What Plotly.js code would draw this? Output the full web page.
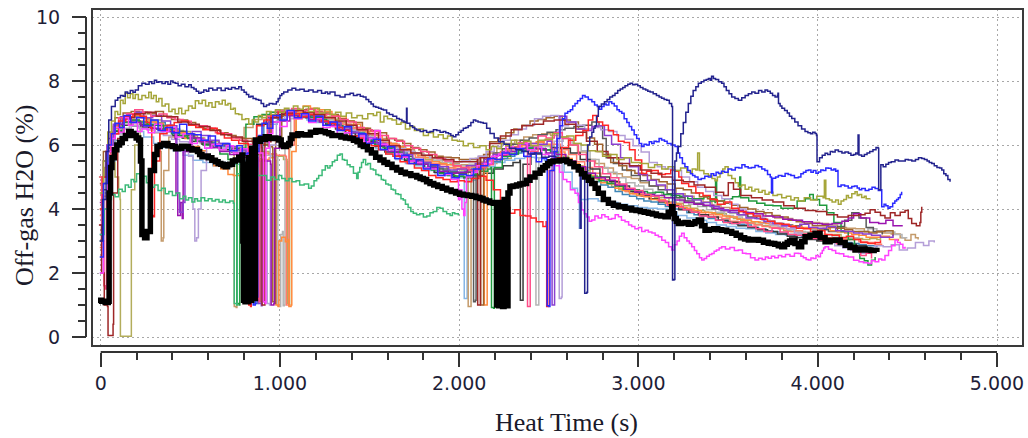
<!DOCTYPE html>
<html><head><meta charset="utf-8">
<script src="https://cdn.plot.ly/plotly-3.0.1.min.js"></script>
<style>html,body{margin:0;padding:0;background:#fff;}#chart{width:1028px;height:438px;}</style>
</head><body><div id="chart"></div>
<script>
// ---- tick labels / titles ----
const xTickVals = [0, 1000, 2000, 3000, 4000, 5000];
const xTickText = ["0", "1.000", "2.000", "3.000", "4.000", "5.000"];
const yTickVals = [0, 2, 4, 6, 8, 10];
const yTickText = ["0", "2", "4", "6", "8", "10"];
const xTitle = "Heat Time (s)";
const yTitle = "Off-gas H2O (%)";

// ---- series: [heat time (s), off-gas H2O (%)] ----
const pinkPts = [[-8,5.0],[5,3.0],[18,1.6],[25,1.5],[32,4.5],[55,6.35],[100,6.85],[145,6.98],[190,7.1],[235,7.02],[280,6.9],[325,6.97],[370,6.85],[415,6.8],[460,6.74],[505,6.62],[550,6.6],[595,6.52],[640,6.38],[685,6.35],[730,6.22],[775,6.15],[820,6.02],[868,5.98],[871,1.2],[884,1.1],[888,6.2],[930,6.9],[975,7.06],[1020,7.0],[1065,7.14],[1110,7.08],[1155,7.12],[1200,7.02],[1245,6.95],[1290,6.9],[1335,6.8],[1380,6.72],[1425,6.55],[1470,6.48],[1515,6.42],[1560,6.3],[1605,6.2],[1650,6.12],[1695,5.98],[1740,5.9],[1785,5.8],[1830,5.7],[1875,5.58],[1920,5.5],[1965,5.35],[2010,5.3],[2055,5.2],[2100,5.3],[2145,5.38],[2190,5.55],[2235,5.7],[2280,5.9],[2330,6.08],[2378,6.0],[2381,0.95],[2392,0.95],[2396,5.8],[2440,6.28],[2485,6.22],[2530,6.38],[2575,6.2],[2620,6.0],[2665,5.7],[2710,5.5],[2755,5.32],[2800,5.1],[2845,4.98],[2890,4.78],[2935,4.65],[2980,4.58],[3025,4.45],[3070,4.4],[3115,4.25],[3160,4.12],[3205,4.08],[3250,3.98],[3295,3.9],[3340,3.78],[3385,3.75],[3430,3.65],[3475,3.58],[3520,3.55],[3565,3.58],[3610,3.45],[3655,3.38],[3700,3.3],[3745,3.4],[3790,3.28],[3835,3.2],[3880,3.18],[3925,3.22],[3970,3.08],[4015,3.02],[4060,2.98],[4105,2.92],[4150,2.82],[4195,2.7],[4240,2.55],[4270,2.62],[4300,2.45]];
const redPts = [[-5,4.0],[10,5.0],[30,5.8],[60,6.35],[100,6.75],[140,6.88],[180,6.95],[220,6.9],[255,6.7],[275,6.55],[285,3.8],[296,3.76],[300,5.5],[330,6.35],[370,6.62],[410,6.7],[450,6.75],[490,6.62],[530,6.55],[570,6.48],[610,6.52],[650,6.35],[690,6.22],[730,6.15],[770,6.05],[823,5.88],[826,1.0],[836,0.95],[840,5.9],[870,6.6],[910,6.78],[950,6.92],[990,7.02],[1030,6.95],[1070,6.98],[1110,6.88],[1150,6.95],[1190,6.82],[1230,6.75],[1270,6.68],[1310,6.55],[1350,6.45],[1390,6.28],[1430,6.22],[1470,6.05],[1510,5.98],[1550,5.85],[1590,5.72],[1630,5.65],[1670,5.48],[1710,5.42],[1750,5.28],[1790,5.2],[1830,5.05],[1870,4.98],[1910,4.92],[1950,4.85],[1990,4.88],[2030,4.85],[2070,4.95],[2110,5.02],[2150,4.9],[2190,4.6],[2230,4.25],[2260,4.05],[2283,3.87],[2310,3.98],[2340,3.8],[2370,3.78],[2400,3.72],[2430,3.6],[2467,3.45],[2485,3.6],[2488,0.95],[2498,0.98],[2502,5.2],[2530,5.6],[2570,5.92],[2610,6.15],[2650,6.3],[2690,6.45],[2720,6.78],[2745,6.92],[2770,6.72],[2800,6.62],[2832,6.45],[2860,6.32],[2888,6.12],[2920,6.08],[2950,5.85],[2981,5.53],[3018,5.11],[3045,5.18],[3074,5.2],[3110,5.08],[3150,5.1],[3180,5.22],[3204,5.18],[3225,5.0],[3241,4.8],[3280,4.7],[3320,4.5],[3360,4.42],[3400,4.3],[3440,4.15],[3483,4.22],[3520,4.02],[3560,3.92],[3600,3.85],[3640,3.78],[3680,3.68],[3720,3.62],[3760,3.55],[3800,3.52],[3840,3.45],[3880,3.4],[3920,3.38],[3960,3.3],[4000,3.32],[4040,3.2],[4080,3.18],[4120,3.1],[4160,3.15],[4200,3.05],[4240,2.95],[4280,2.92],[4320,2.95],[4350,3.02]];
const purplePts = [[-5,3.5],[12,4.8],[35,6.0],[70,6.65],[110,6.88],[150,6.95],[190,7.02],[240,6.85],[290,6.92],[340,6.75],[390,6.6],[425,5.9],[430,4.5],[440,3.9],[460,4.2],[470,6.0],[510,6.42],[560,6.3],[610,6.15],[660,6.05],[710,5.95],[760,5.85],[810,5.75],[850,5.62],[877,5.62],[880,1.05],[896,0.98],[900,6.1],[940,6.85],[990,7.05],[1040,7.0],[1090,7.08],[1140,6.95],[1190,6.9],[1240,6.72],[1290,6.7],[1340,6.55],[1390,6.4],[1440,6.32],[1490,6.22],[1540,6.05],[1590,5.95],[1640,5.85],[1690,5.7],[1740,5.55],[1790,5.45],[1840,5.38],[1890,5.32],[1940,5.22],[1990,5.25],[2040,5.35],[2090,5.42],[2140,5.55],[2190,5.7],[2240,5.8],[2290,5.92],[2340,6.02],[2390,6.05],[2440,6.02],[2490,6.12],[2515,5.9],[2518,1.0],[2528,1.0],[2532,5.9],[2545,6.4],[2562,6.9],[2600,6.72],[2650,6.5],[2700,6.45],[2740,6.58],[2775,6.6],[2810,6.3],[2850,6.02],[2900,5.6],[2950,5.32],[3000,5.08],[3050,4.9],[3100,4.75],[3150,4.6],[3200,4.48],[3250,4.4],[3300,4.28],[3350,4.2],[3400,4.08],[3450,3.98],[3500,3.9],[3550,3.82],[3600,3.72],[3650,3.7],[3700,3.6],[3750,3.55],[3800,3.48],[3850,3.44],[3900,3.52],[3950,3.42],[4000,3.4],[4050,3.45],[4100,3.32],[4150,3.3],[4200,3.25],[4250,3.22],[4300,3.18],[4350,3.12],[4420,3.2]];
const violetPts = [[-5,4.2],[15,5.5],[40,6.2],[80,6.65],[125,6.82],[170,6.7],[225,6.6],[280,6.52],[335,6.45],[380,6.42],[415,6.2],[420,4.5],[430,3.8],[445,4.2],[455,3.7],[460,5.8],[500,6.22],[555,6.1],[610,5.92],[665,5.8],[720,5.7],[775,5.62],[830,5.55],[885,5.5],[948,5.4],[951,1.0],[966,1.05],[970,5.9],[1000,6.75],[1055,6.92],[1110,6.88],[1165,6.8],[1220,6.72],[1275,6.62],[1330,6.48],[1385,6.38],[1440,6.2],[1495,6.08],[1550,5.98],[1605,5.8],[1660,5.65],[1715,5.5],[1770,5.4],[1825,5.3],[1880,5.18],[1935,5.12],[1990,5.15],[2045,5.22],[2100,5.42],[2155,5.55],[2210,5.68],[2265,5.8],[2320,5.9],[2375,5.98],[2430,5.88],[2485,5.75],[2540,5.7],[2595,5.5],[2650,5.32],[2705,5.12],[2760,4.98],[2815,4.9],[2870,4.75],[2925,4.62],[2980,4.52],[3035,4.45],[3090,4.42],[3145,4.35],[3200,4.28],[3255,4.2],[3310,4.15],[3365,4.12],[3420,4.02],[3475,3.95],[3530,3.95],[3585,3.88],[3640,3.85],[3695,3.78],[3750,3.75],[3805,3.68],[3860,3.65],[3915,3.6],[3970,3.55],[4025,3.52],[4080,3.55],[4135,3.62],[4170,3.72],[4200,3.85],[4240,3.72],[4290,3.58],[4340,3.55],[4380,3.65],[4420,3.48],[4470,3.5]];
const lavenderPts = [[-5,3.0],[15,4.5],[40,5.8],[80,6.35],[125,6.5],[170,6.6],[215,6.52],[260,6.48],[305,6.4],[350,6.3],[395,6.18],[440,6.1],[490,5.65],[515,4.0],[525,3.0],[535,3.1],[545,4.0],[560,5.2],[590,5.92],[635,6.02],[680,5.9],[725,5.8],[770,5.78],[815,5.7],[860,5.62],[905,5.52],[926,5.5],[929,1.05],[942,1.0],[946,6.0],[980,6.75],[1025,6.88],[1070,6.92],[1115,6.95],[1160,6.82],[1205,6.75],[1250,6.72],[1295,6.58],[1340,6.5],[1385,6.45],[1430,6.32],[1475,6.25],[1520,6.2],[1565,6.0],[1610,5.98],[1655,5.88],[1700,5.8],[1745,5.75],[1790,5.68],[1835,5.6],[1880,5.58],[1925,5.5],[1970,5.48],[2015,5.5],[2060,5.58],[2105,5.65],[2150,5.8],[2195,5.95],[2240,6.15],[2285,6.32],[2330,6.5],[2375,6.62],[2420,6.82],[2465,6.9],[2510,6.92],[2555,6.8],[2558,1.2],[2570,1.25],[2574,6.6],[2610,6.72],[2655,6.62],[2700,6.5],[2745,6.55],[2790,6.48],[2835,6.42],[2880,6.3],[2925,6.18],[2970,5.98],[3015,5.78],[3060,5.45],[3105,5.32],[3150,5.25],[3195,5.2],[3240,5.0],[3285,4.85],[3330,4.68],[3375,4.55],[3420,4.42],[3465,4.32],[3510,4.15],[3555,4.0],[3600,3.9],[3645,3.78],[3690,3.65],[3735,3.52],[3780,3.45],[3825,3.38],[3870,3.25],[3915,3.15],[3960,3.1],[4005,3.05],[4050,2.95],[4095,2.85],[4140,2.78],[4185,2.7],[4230,2.62],[4275,2.7],[4320,2.85],[4365,2.82],[4410,2.88],[4455,2.72],[4500,2.78],[4545,2.95],[4590,2.86],[4620,3.0],[4650,2.95]];
const orangePts = [[-5,3.8],[12,5.0],[35,6.0],[70,6.58],[110,6.8],[150,6.88],[190,6.92],[230,6.85],[270,6.72],[310,6.68],[350,6.58],[390,6.45],[430,6.38],[470,6.2],[510,5.95],[550,5.82],[590,5.6],[630,5.35],[670,5.25],[710,5.08],[740,5.05],[780,5.25],[820,5.38],[860,5.52],[900,5.55],[940,5.6],[975,5.52],[978,1.0],[990,0.95],[994,3.0],[1010,3.12],[1030,2.98],[1045,3.05],[1050,0.95],[1062,1.0],[1066,5.8],[1090,7.02],[1130,7.22],[1170,7.15],[1210,7.1],[1250,7.05],[1290,6.92],[1330,6.88],[1370,6.75],[1410,6.65],[1450,6.52],[1490,6.42],[1530,6.3],[1570,6.15],[1610,6.05],[1650,5.95],[1690,5.88],[1730,5.75],[1770,5.68],[1810,5.6],[1850,5.48],[1890,5.42],[1930,5.38],[1970,5.32],[2010,5.3],[2050,5.35],[2090,5.4],[2137,5.45],[2140,1.0],[2152,1.0],[2156,5.5],[2190,5.7],[2230,5.8],[2270,5.88],[2310,5.95],[2350,6.02],[2390,6.05],[2430,6.1],[2470,6.02],[2510,5.88],[2550,5.78],[2590,5.58],[2630,5.42],[2670,5.25],[2710,5.05],[2750,4.95],[2790,4.82],[2830,4.78],[2870,4.65],[2910,4.58],[2950,4.48],[2990,4.42],[3030,4.38],[3070,4.3],[3110,4.28],[3150,4.18],[3190,4.15],[3230,4.05],[3270,4.0],[3310,3.95],[3350,3.9],[3390,3.88],[3430,3.82],[3470,3.78],[3510,3.75],[3550,3.68],[3590,3.65],[3630,3.6],[3670,3.58],[3710,3.55],[3750,3.55],[3790,3.5],[3830,3.48],[3870,3.45],[3910,3.42],[3950,3.4],[3990,3.38],[4030,3.4],[4070,3.32],[4110,3.28],[4150,3.25],[4190,3.2],[4230,3.18],[4270,3.12],[4310,3.12],[4350,3.15],[4400,3.05],[4450,3.0]];
const grayPts = [[-5,2.5],[15,4.5],[40,5.8],[75,6.35],[115,6.52],[160,6.6],[205,6.7],[255,6.58],[305,6.5],[355,6.45],[405,6.35],[455,6.22],[505,6.1],[555,6.05],[605,6.0],[655,5.9],[705,5.85],[755,5.8],[805,5.74],[855,5.7],[905,5.68],[955,5.65],[985,5.6],[988,0.97],[1000,0.95],[1004,3.2],[1014,3.3],[1018,0.98],[1024,1.0],[1028,6.0],[1060,6.82],[1105,6.9],[1155,6.88],[1205,6.85],[1255,6.78],[1305,6.65],[1355,6.52],[1405,6.45],[1455,6.35],[1505,6.2],[1555,6.12],[1605,6.05],[1655,5.9],[1705,5.8],[1755,5.72],[1805,5.6],[1855,5.52],[1905,5.45],[1955,5.38],[2005,5.35],[2055,5.4],[2105,5.48],[2155,5.6],[2205,5.7],[2255,5.78],[2305,5.85],[2355,5.9],[2405,5.82],[2425,5.8],[2428,1.0],[2440,1.0],[2444,5.6],[2480,5.95],[2530,6.12],[2580,6.2],[2630,6.05],[2680,5.82],[2730,5.55],[2780,5.3],[2830,5.15],[2880,4.98],[2930,4.82],[2980,4.72],[3030,4.62],[3080,4.52],[3130,4.45],[3180,4.35],[3230,4.25],[3280,4.15],[3330,4.08],[3380,3.98],[3430,3.9],[3480,3.8],[3530,3.75],[3580,3.68],[3630,3.6],[3680,3.55],[3730,3.48],[3780,3.4],[3830,3.35],[3880,3.3],[3930,3.28],[3980,3.2],[4030,3.18],[4080,3.12],[4130,3.05],[4180,3.1],[4230,3.3],[4280,3.38],[4330,3.32],[4380,3.28],[4430,3.2],[4470,3.1],[4500,3.1]];
const darkGreenPts = [[-5,3.0],[15,4.5],[40,5.9],[80,6.45],[125,6.7],[170,6.78],[215,6.72],[260,6.65],[305,6.62],[350,6.5],[395,6.35],[440,6.28],[485,6.2],[530,6.12],[575,6.0],[620,5.92],[665,5.72],[710,5.55],[757,5.42],[760,1.05],[772,1.0],[776,5.9],[810,6.65],[855,6.88],[900,6.95],[945,7.02],[990,7.05],[1035,7.0],[1080,6.98],[1125,6.9],[1170,6.85],[1215,6.8],[1260,6.68],[1305,6.6],[1350,6.5],[1395,6.38],[1440,6.3],[1485,6.15],[1530,6.0],[1575,5.92],[1620,5.78],[1665,5.65],[1710,5.55],[1755,5.4],[1800,5.3],[1845,5.22],[1890,5.12],[1935,5.05],[1980,5.02],[2025,5.0],[2070,5.08],[2115,5.18],[2160,5.25],[2177,5.3],[2180,0.92],[2192,0.9],[2196,5.3],[2240,5.65],[2285,5.72],[2330,5.82],[2375,5.9],[2420,5.88],[2465,5.85],[2510,5.78],[2555,5.6],[2600,5.48],[2645,5.3],[2690,5.12],[2735,5.0],[2780,4.88],[2825,4.8],[2870,4.72],[2915,4.62],[2960,4.6],[3005,4.55],[3050,4.5],[3095,4.52],[3140,4.45],[3185,4.42],[3230,4.4],[3275,4.32],[3320,4.32],[3365,4.38],[3400,4.25],[3427,4.2],[3430,4.9],[3436,4.25],[3480,4.32],[3525,4.38],[3560,4.4],[3565,5.0],[3570,4.35],[3615,4.25],[3660,4.18],[3705,4.12],[3750,4.1],[3795,4.02],[3840,4.02],[3885,4.25],[3930,4.32],[3955,4.45],[3975,4.3],[4010,4.12],[4050,3.88],[4090,3.58],[4130,3.3],[4170,3.05],[4205,2.72],[4235,2.45],[4260,2.38],[4280,2.25],[4300,2.4],[4320,2.5]];
const lightBluePts = [[-5,2.0],[15,4.0],[40,5.5],[80,6.15],[130,6.32],[185,6.42],[240,6.25],[295,6.05],[350,5.92],[405,5.82],[460,5.68],[515,5.52],[570,5.45],[625,5.35],[660,5.45],[700,5.38],[740,5.4],[790,5.5],[840,5.6],[876,5.7],[879,1.1],[890,1.1],[894,6.0],[930,6.65],[985,6.82],[1040,6.92],[1095,6.85],[1150,6.78],[1205,6.7],[1260,6.6],[1315,6.45],[1370,6.3],[1425,6.15],[1480,6.05],[1535,5.88],[1590,5.72],[1645,5.55],[1700,5.42],[1755,5.35],[1810,5.2],[1865,5.1],[1920,5.05],[1975,4.98],[2025,4.98],[2028,1.2],[2040,1.2],[2044,4.9],[2090,5.22],[2145,5.32],[2200,5.45],[2255,5.52],[2310,5.58],[2365,5.62],[2420,5.6],[2475,5.52],[2530,5.48],[2585,5.15],[2630,4.65],[2660,4.42],[2670,3.4],[2675,4.3],[2720,4.32],[2775,4.25],[2830,4.2],[2885,4.15],[2940,4.1],[2995,4.05],[3050,4.02],[3105,4.0],[3160,3.9],[3215,3.8],[3270,3.72],[3325,3.65],[3380,3.58],[3435,3.5],[3490,3.45],[3545,3.4],[3600,3.38],[3655,3.3],[3710,3.25],[3765,3.2],[3820,3.18],[3875,3.12],[3930,3.12],[3985,3.05],[4040,3.02],[4095,2.98],[4150,2.92],[4205,2.85],[4260,2.78],[4300,2.75]];
const tanPts = [[-5,4.0],[15,5.0],[40,6.0],[80,6.52],[125,6.72],[170,6.62],[215,6.55],[260,6.48],[300,6.38],[330,5.8],[338,3.0],[348,3.1],[352,5.2],[380,6.25],[425,6.4],[475,6.35],[525,6.2],[575,6.12],[625,6.02],[675,5.9],[720,5.82],[742,5.68],[745,0.95],[756,0.92],[760,5.8],[800,6.55],[850,6.8],[900,6.92],[950,7.02],[1000,7.1],[1050,7.05],[1100,7.0],[1150,6.98],[1200,6.92],[1250,6.8],[1300,6.72],[1350,6.65],[1400,6.5],[1450,6.38],[1500,6.3],[1550,6.2],[1600,6.05],[1650,5.95],[1700,5.85],[1750,5.75],[1800,5.62],[1850,5.58],[1900,5.52],[1950,5.42],[2000,5.38],[2047,5.38],[2050,0.95],[2062,0.95],[2066,5.3],[2110,5.65],[2160,5.75],[2210,5.88],[2260,6.05],[2310,6.15],[2360,6.25],[2410,6.32],[2460,6.35],[2510,6.3],[2560,6.25],[2610,6.0],[2660,5.78],[2710,5.55],[2760,5.42],[2810,5.28],[2860,5.1],[2910,5.0],[2960,4.95],[3010,4.82],[3060,4.72],[3110,4.72],[3160,4.6],[3210,4.48],[3260,4.4],[3310,4.32],[3360,4.22],[3410,4.12],[3460,4.05],[3510,4.0],[3560,3.92],[3610,3.88],[3660,3.85],[3710,3.78],[3760,3.72],[3810,3.7],[3860,3.65],[3910,3.6],[3960,3.58],[4010,3.55],[4060,3.5],[4110,3.42],[4160,3.4],[4210,3.38],[4260,3.28],[4310,3.28],[4360,3.25],[4410,3.22],[4460,3.1],[4487,3.02],[4520,3.2],[4545,3.1],[4560,3.05]];
const brownPts = [[-5,4.8],[15,5.8],[40,6.4],[80,6.85],[125,7.0],[170,7.05],[215,7.02],[260,6.98],[305,7.05],[350,6.9],[395,6.8],[440,6.78],[485,6.7],[530,6.6],[575,6.52],[620,6.48],[665,6.38],[710,6.3],[755,6.22],[800,6.2],[845,6.1],[890,6.02],[935,5.95],[957,5.92],[960,1.1],[972,1.05],[976,6.2],[1010,6.92],[1055,7.08],[1100,7.1],[1145,7.12],[1190,7.05],[1235,7.0],[1280,6.95],[1325,6.82],[1370,6.75],[1415,6.7],[1460,6.52],[1505,6.45],[1550,6.38],[1595,6.2],[1640,6.15],[1685,6.05],[1730,5.92],[1775,5.85],[1820,5.78],[1865,5.65],[1910,5.62],[1955,5.6],[2000,5.55],[2045,5.55],[2090,5.58],[2117,5.62],[2120,1.0],[2132,1.0],[2136,5.7],[2170,6.1],[2215,6.2],[2260,6.38],[2305,6.5],[2350,6.62],[2395,6.75],[2440,6.8],[2485,6.85],[2530,6.9],[2575,6.78],[2620,6.72],[2665,6.5],[2710,6.22],[2755,6.02],[2800,5.7],[2845,5.45],[2890,5.35],[2935,5.2],[2980,5.12],[3025,5.05],[3070,4.92],[3115,4.85],[3160,4.78],[3205,4.65],[3250,4.6],[3295,4.5],[3340,4.38],[3385,4.32],[3430,4.25],[3475,4.18],[3520,4.12],[3565,4.05],[3610,4.0],[3655,3.92],[3700,3.88],[3745,3.8],[3790,3.75],[3835,3.65],[3880,3.6],[3925,3.55],[3970,3.48],[4015,3.48],[4060,3.42],[4105,3.4],[4150,3.35],[4195,3.3],[4240,3.3],[4285,3.25],[4330,3.3],[4375,3.32],[4420,3.15]];
const maroonPts = [[-10,3.5],[5,2.0],[20,1.0],[38,0.95],[41,0.05],[66,0.05],[69,0.4],[72,4.5],[95,6.2],[130,6.85],[190,6.98],[250,7.02],[310,6.9],[370,6.88],[430,6.72],[490,6.65],[550,6.58],[610,6.45],[670,6.32],[730,6.25],[790,6.12],[850,6.05],[897,5.92],[900,1.0],[912,1.0],[916,6.1],[950,6.85],[1010,7.0],[1070,7.08],[1130,7.02],[1190,6.95],[1250,6.85],[1310,6.75],[1370,6.62],[1430,6.48],[1490,6.35],[1550,6.15],[1610,5.98],[1670,5.85],[1730,5.75],[1790,5.68],[1850,5.6],[1910,5.55],[1970,5.48],[2030,5.48],[2100,5.55],[2103,1.0],[2114,1.0],[2118,5.6],[2170,6.05],[2230,6.28],[2290,6.48],[2350,6.6],[2410,6.65],[2470,6.75],[2530,6.78],[2590,6.65],[2650,6.4],[2710,6.12],[2770,5.8],[2830,5.6],[2890,5.42],[2950,5.35],[3010,5.22],[3070,5.12],[3130,5.0],[3190,4.9],[3250,4.85],[3310,4.75],[3370,4.68],[3430,4.52],[3475,4.42],[3501,4.82],[3530,4.62],[3570,4.42],[3630,4.35],[3690,4.28],[3750,4.22],[3810,4.1],[3870,4.02],[3930,3.95],[3990,3.92],[4050,3.82],[4110,3.75],[4170,3.8],[4230,3.82],[4264,3.87],[4292,3.98],[4320,3.9],[4350,3.8],[4375,3.72],[4405,3.88],[4431,3.8],[4460,3.9],[4487,3.95],[4505,3.7],[4524,3.55],[4550,3.48],[4570,3.58],[4575,3.9],[4580,4.07]];
const darkGrayPts = [[-5,3.5],[15,5.0],[40,6.0],[80,6.55],[125,6.72],[170,6.75],[220,6.65],[270,6.62],[320,6.6],[370,6.52],[420,6.42],[470,6.3],[520,6.2],[570,6.12],[620,6.05],[670,6.0],[720,5.9],[770,5.8],[820,5.75],[870,5.7],[888,5.7],[891,1.1],[900,1.1],[904,6.0],[940,6.72],[990,6.9],[1040,6.95],[1090,7.0],[1140,6.92],[1190,6.85],[1240,6.72],[1290,6.65],[1340,6.55],[1390,6.4],[1440,6.3],[1490,6.22],[1540,6.05],[1590,5.92],[1640,5.78],[1690,5.65],[1740,5.52],[1790,5.45],[1840,5.35],[1890,5.25],[1940,5.15],[1990,5.12],[2040,5.15],[2078,5.22],[2080,1.1],[2090,1.15],[2094,5.3],[2140,5.6],[2190,5.75],[2240,5.88],[2290,6.02],[2340,6.15],[2390,6.22],[2440,6.32],[2490,6.4],[2540,6.48],[2590,6.52],[2640,6.58],[2690,6.62],[2740,6.72],[2780,6.6],[2800,6.2],[2820,5.6],[2860,5.42],[2910,5.22],[2960,5.05],[3010,4.88],[3060,4.72],[3110,4.6],[3160,4.48],[3210,4.35],[3260,4.25],[3310,4.18],[3360,4.1],[3410,4.0],[3460,3.95],[3510,3.88],[3560,3.82],[3610,3.75],[3660,3.7],[3710,3.62],[3760,3.55],[3810,3.5],[3860,3.48],[3910,3.4],[3960,3.38],[4010,3.35],[4060,3.3],[4110,3.45],[4150,3.65],[4190,3.88],[4230,3.72],[4270,3.42],[4310,3.3],[4360,3.2]];
const charcoalPts = [[-5,3.0],[15,4.6],[40,5.9],[80,6.42],[125,6.62],[180,6.6],[235,6.55],[290,6.5],[345,6.42],[400,6.3],[455,6.22],[510,6.12],[565,6.02],[620,5.95],[675,5.85],[730,5.78],[785,5.68],[815,5.6],[818,1.15],[828,1.15],[832,5.9],[870,6.65],[925,6.85],[980,6.95],[1035,6.92],[1090,6.88],[1145,6.85],[1200,6.75],[1255,6.65],[1310,6.5],[1365,6.38],[1420,6.3],[1475,6.12],[1530,5.95],[1585,5.78],[1640,5.65],[1695,5.52],[1750,5.4],[1805,5.28],[1860,5.15],[1915,5.08],[1970,5.02],[2025,4.98],[2080,5.05],[2135,5.12],[2190,5.25],[2245,5.35],[2300,5.45],[2338,5.52],[2341,1.15],[2352,1.15],[2356,5.4],[2400,5.72],[2455,5.85],[2510,5.92],[2565,5.9],[2620,5.75],[2675,5.55],[2730,5.25],[2785,5.0],[2840,4.85],[2895,4.72],[2950,4.55],[3005,4.42],[3060,4.32],[3115,4.22],[3170,4.1],[3225,3.98],[3280,3.9],[3335,3.82],[3390,3.75],[3445,3.65],[3500,3.58],[3555,3.48],[3610,3.42],[3665,3.35],[3720,3.3],[3775,3.22],[3830,3.15],[3885,3.1],[3940,3.05],[3995,3.0],[4050,2.95],[4105,2.92],[4160,2.9],[4215,2.85],[4270,2.8],[4300,2.8]];
const steelPts = [[-5,3.2],[15,4.8],[40,6.0],[80,6.6],[120,6.82],[160,6.88],[200,6.9],[240,6.82],[280,6.75],[320,6.7],[360,6.62],[400,6.5],[440,6.42],[480,6.32],[520,6.2],[560,6.15],[600,6.08],[640,6.0],[680,5.95],[720,5.88],[760,5.8],[800,5.75],[840,5.7],[857,5.68],[860,1.05],[872,1.05],[876,6.0],[910,6.72],[950,6.88],[990,6.95],[1030,7.02],[1070,6.98],[1110,6.95],[1150,6.88],[1190,6.9],[1230,6.75],[1270,6.68],[1310,6.6],[1350,6.48],[1390,6.42],[1430,6.38],[1470,6.2],[1510,6.08],[1550,5.98],[1590,5.9],[1630,5.78],[1670,5.75],[1710,5.58],[1750,5.5],[1790,5.42],[1830,5.32],[1870,5.28],[1910,5.2],[1950,5.18],[1990,5.15],[2030,5.18],[2070,5.25],[2110,5.25],[2150,5.4],[2190,5.48],[2230,5.58],[2270,5.65],[2310,5.75],[2350,5.82],[2390,5.92],[2430,5.9],[2470,5.85],[2510,5.78],[2550,5.62],[2590,5.48],[2630,5.3],[2670,5.15],[2710,5.0],[2750,4.85],[2790,4.75],[2830,4.68],[2870,4.55],[2910,4.45],[2950,4.4],[2990,4.32],[3030,4.25],[3070,4.22],[3110,4.15],[3150,4.08],[3190,4.0],[3230,4.02],[3270,3.88],[3310,3.82],[3350,3.78],[3390,3.7],[3430,3.65],[3470,3.6],[3510,3.55],[3550,3.52],[3590,3.5],[3630,3.42],[3670,3.38],[3710,3.32],[3750,3.28],[3790,3.25],[3830,3.2],[3870,3.18],[3910,3.15],[3950,3.18],[3990,3.1],[4030,3.05],[4070,3.02],[4110,2.98],[4150,2.95],[4190,2.92],[4230,2.88],[4270,2.85],[4330,2.8]];
const salmonPts = [[-5,2.8],[15,4.4],[40,5.7],[80,6.45],[125,6.7],[170,6.8],[215,6.75],[260,6.72],[305,6.62],[350,6.52],[395,6.45],[440,6.38],[485,6.28],[530,6.18],[575,6.1],[620,5.98],[665,5.98],[710,5.95],[755,5.85],[800,5.85],[845,5.8],[890,5.75],[935,5.72],[980,5.68],[1030,5.65],[1036,1.0],[1046,1.0],[1050,6.0],[1080,6.82],[1125,6.95],[1170,6.98],[1215,6.98],[1260,6.85],[1305,6.7],[1350,6.65],[1395,6.52],[1440,6.45],[1485,6.35],[1530,6.18],[1575,6.08],[1620,6.02],[1665,5.82],[1710,5.72],[1755,5.62],[1800,5.5],[1845,5.42],[1890,5.38],[1935,5.28],[1980,5.25],[2025,5.28],[2070,5.35],[2115,5.45],[2160,5.58],[2205,5.7],[2250,5.8],[2295,5.9],[2340,5.98],[2385,6.05],[2430,6.08],[2475,6.15],[2520,6.02],[2565,5.85],[2610,5.7],[2655,5.48],[2700,5.3],[2745,5.12],[2790,4.92],[2835,4.88],[2880,4.7],[2925,4.55],[2970,4.48],[3015,4.4],[3060,4.32],[3105,4.28],[3150,4.2],[3195,4.15],[3240,4.02],[3285,3.95],[3330,3.88],[3375,3.82],[3420,3.75],[3465,3.7],[3510,3.62],[3555,3.6],[3600,3.55],[3645,3.5],[3690,3.45],[3735,3.42],[3780,3.38],[3825,3.3],[3870,3.32],[3915,3.22],[3960,3.18],[4005,3.15],[4050,3.1],[4095,3.08],[4140,3.05],[4185,3.05],[4230,2.98],[4275,2.95],[4320,2.9],[4360,2.9]];
const khakiPts = [[-10,5.0],[20,5.3],[50,5.6],[80,5.0],[100,4.5],[108,4.3],[110,0.02],[168,0.02],[171,4.6],[190,6.0],[220,6.65],[260,6.78],[300,6.78],[340,6.6],[380,6.52],[420,6.45],[460,6.42],[500,6.3],[540,6.22],[580,6.12],[620,6.12],[660,6.0],[700,5.95],[740,5.9],[780,5.88],[820,5.8],[860,5.88],[900,5.8],[940,5.72],[980,5.65],[1020,5.55],[1040,5.48],[1043,1.05],[1050,1.0],[1054,6.2],[1090,6.92],[1130,7.0],[1170,7.02],[1210,7.02],[1250,6.88],[1290,6.8],[1330,6.7],[1370,6.62],[1410,6.55],[1450,6.42],[1490,6.3],[1530,6.2],[1570,6.1],[1610,5.98],[1650,5.92],[1690,5.8],[1730,5.7],[1770,5.62],[1810,5.55],[1850,5.5],[1890,5.45],[1930,5.3],[1970,5.25],[2010,5.22],[2050,5.2],[2090,5.25],[2130,5.32],[2170,5.42],[2210,5.55],[2250,5.58],[2290,5.72],[2330,5.85],[2370,5.92],[2410,5.95],[2450,5.98],[2490,5.98],[2530,5.8],[2570,5.65],[2610,5.5],[2650,5.35],[2690,5.2],[2730,5.05],[2770,4.92],[2810,4.88],[2850,4.7],[2890,4.6],[2930,4.55],[2970,4.5],[3010,4.45],[3050,4.4],[3090,4.35],[3130,4.36],[3170,4.22],[3210,4.18],[3250,4.1],[3290,4.02],[3330,3.95],[3370,3.9],[3410,3.85],[3450,3.86],[3490,3.75],[3530,3.7],[3570,3.65],[3610,3.58],[3650,3.52],[3690,3.48],[3730,3.42],[3770,3.42],[3810,3.32],[3850,3.3],[3890,3.25],[3930,3.25],[3970,3.22],[4010,3.2],[4050,3.18],[4090,3.2],[4130,3.12],[4170,3.1],[4210,3.08],[4250,3.05],[4290,3.08],[4330,3.05],[4350,3.1]];
const olivePts = [[-5,4.5],[15,5.5],[40,6.4],[60,6.75],[80,7.05],[95,6.95],[110,7.4],[125,7.3],[137,7.62],[150,7.48],[165,7.6],[180,7.45],[193,7.58],[210,7.42],[230,7.55],[250,7.48],[268,7.65],[282,7.45],[295,7.55],[310,7.35],[324,7.45],[342,7.22],[360,7.28],[380,7.05],[398,7.12],[415,6.98],[435,7.15],[452,6.98],[472,7.08],[490,7.22],[510,7.15],[528,7.38],[547,7.3],[566,7.4],[585,7.22],[603,7.32],[621,7.18],[640,7.35],[660,7.28],[678,7.4],[695,7.25],[710,7.3],[725,7.12],[740,7.15],[751,6.98],[770,6.95],[788,6.8],[808,6.82],[826,6.65],[845,6.78],[860,6.72],[880,6.92],[900,6.85],[925,7.05],[950,6.95],[975,7.1],[1000,7.02],[1025,7.15],[1050,7.08],[1075,7.22],[1100,7.12],[1130,7.2],[1160,7.05],[1190,7.15],[1220,7.0],[1250,7.1],[1280,6.95],[1310,7.02],[1340,6.9],[1370,7.0],[1400,6.85],[1430,6.92],[1460,6.82],[1490,6.98],[1521,6.92],[1540,7.02],[1560,6.72],[1580,6.9],[1600,6.82],[1625,6.78],[1650,6.65],[1675,6.7],[1700,6.5],[1725,6.58],[1750,6.45],[1775,6.5],[1800,6.3],[1828,6.38],[1856,6.25],[1883,6.32],[1911,6.2],[1935,6.28],[1960,6.15],[1990,6.12],[2023,5.98],[2050,6.05],[2080,5.92],[2115,5.98],[2150,5.85],[2180,5.95],[2209,5.9],[2235,6.05],[2260,5.98],[2290,6.15],[2320,6.05],[2360,6.12],[2400,5.98],[2440,6.15],[2480,6.18],[2520,6.35],[2560,6.25],[2600,6.28],[2640,6.05],[2680,6.0],[2720,5.82],[2760,5.8],[2800,5.65],[2840,5.7],[2880,5.55],[2920,5.6],[2960,5.45],[3010,5.42],[3055,5.3],[3090,5.38],[3130,5.25],[3165,5.32],[3200,5.2],[3235,5.28],[3270,5.15],[3300,5.25],[3320,5.22],[3330,5.75],[3340,5.2],[3365,5.1],[3390,5.05],[3410,4.95],[3427,4.88],[3440,5.0],[3455,5.12],[3470,5.25],[3483,5.32],[3500,5.05],[3520,4.95],[3540,4.82],[3557,4.7],[3575,4.75],[3595,4.62],[3615,4.68],[3632,4.56],[3650,4.62],[3670,4.52],[3690,4.58],[3706,4.46],[3728,4.52],[3750,4.42],[3775,4.45],[3799,4.35],[3825,4.4],[3850,4.28],[3870,4.35],[3892,4.25],[3925,4.35],[3960,4.28],[3995,4.4],[4030,4.35],[4037,4.9],[4045,4.32],[4065,4.28],[4080,4.22],[4100,4.28],[4115,4.15],[4130,4.25],[4145,4.3],[4160,4.42],[4171,4.35],[4190,4.48],[4208,4.54],[4220,4.42],[4230,4.45],[4245,4.36],[4260,4.4],[4270,4.32],[4292,4.33]];
const greenPts = [[-5,3.2],[20,4.0],[40,4.3],[60,4.45],[80,4.38],[100,4.62],[120,4.55],[137,4.75],[155,4.68],[170,4.92],[185,4.85],[200,5.1],[220,4.95],[240,5.02],[255,4.82],[270,4.85],[285,4.68],[300,4.75],[320,4.58],[340,4.65],[360,4.48],[380,4.55],[400,4.42],[420,4.5],[440,4.32],[460,4.4],[475,4.28],[490,4.35],[509,4.22],[525,4.32],[540,4.25],[560,4.35],[580,4.26],[600,4.32],[621,4.25],[640,4.3],[660,4.22],[680,4.28],[695,4.2],[720,4.25],[740,4.18],[745,1.05],[758,1.0],[762,5.1],[780,5.25],[800,5.35],[825,5.18],[850,5.28],[875,5.05],[900,5.05],[925,4.9],[950,5.0],[970,4.92],[993,5.05],[1010,4.95],[1030,4.88],[1050,4.95],[1067,4.85],[1090,4.88],[1110,4.75],[1135,4.78],[1160,4.65],[1175,4.72],[1190,4.88],[1205,4.95],[1216,5.05],[1235,5.22],[1253,5.35],[1266,5.28],[1279,5.35],[1292,5.48],[1305,5.52],[1320,5.68],[1335,5.72],[1348,5.55],[1360,5.52],[1375,5.38],[1391,5.32],[1410,5.12],[1428,4.95],[1436,5.15],[1445,5.3],[1455,5.45],[1465,5.55],[1478,5.38],[1490,5.42],[1505,5.25],[1521,5.22],[1535,5.08],[1550,5.05],[1565,4.92],[1577,4.9],[1590,4.78],[1605,4.75],[1620,4.62],[1632,4.59],[1645,4.48],[1660,4.45],[1675,4.32],[1688,4.28],[1700,4.15],[1715,4.05],[1730,3.92],[1744,3.87],[1762,3.82],[1780,3.85],[1800,3.75],[1819,3.78],[1837,3.88],[1855,3.92],[1875,4.05],[1893,4.02],[1910,3.92],[1930,3.85],[1949,3.8],[1962,3.88],[1975,3.85],[1995,3.8]];
const magentaPts = [[-5,2.0],[15,4.0],[40,5.8],[60,6.2],[80,6.55],[105,6.4],[130,6.85],[155,6.62],[180,6.7],[205,6.42],[230,6.5],[265,6.38],[300,6.65],[340,6.42],[380,6.55],[420,6.25],[460,6.35],[500,6.05],[540,6.18],[580,5.9],[620,6.02],[660,5.85],[700,5.98],[740,5.75],[780,5.88],[820,5.65],[860,5.75],[905,5.6],[908,1.1],[918,1.05],[922,5.9],[940,6.35],[960,6.72],[1000,6.58],[1040,7.05],[1080,6.82],[1120,6.95],[1160,6.7],[1200,6.82],[1240,6.55],[1280,6.58],[1320,6.3],[1360,6.38],[1400,6.15],[1440,6.28],[1470,6.1],[1500,6.2],[1530,6.45],[1560,6.02],[1600,5.85],[1640,5.72],[1680,5.62],[1720,5.5],[1760,5.45],[1800,5.28],[1840,5.25],[1880,5.05],[1920,5.08],[1955,4.92],[1990,4.95],[1996,4.3],[2005,4.6],[2015,4.0],[2025,3.8],[2032,4.2],[2040,5.0],[2070,5.15],[2100,5.35],[2140,5.42],[2180,5.65],[2220,5.72],[2260,5.95],[2300,5.88],[2340,6.05],[2380,5.85],[2420,5.95],[2460,5.7],[2500,5.65],[2530,5.35],[2560,5.15],[2580,4.92],[2600,4.85],[2620,4.6],[2646,4.49],[2665,4.2],[2683,3.97],[2697,3.85],[2710,3.75],[2725,3.62],[2739,3.66],[2757,3.78],[2775,3.72],[2795,3.82],[2813,3.76],[2832,3.68],[2850,3.7],[2870,3.82],[2888,3.76],[2905,3.65],[2925,3.6],[2945,3.5],[2962,3.45],[2980,3.38],[3000,3.42],[3018,3.3],[3037,3.34],[3055,3.28],[3075,3.25],[3093,3.18],[3111,3.13],[3130,3.02],[3150,2.95],[3168,2.82],[3185,2.72],[3200,2.88],[3215,3.0],[3228,3.15],[3241,3.24],[3255,3.1],[3270,3.0],[3284,2.92],[3297,2.82],[3312,2.7],[3325,2.6],[3340,2.48],[3353,2.41],[3366,2.45],[3380,2.52],[3395,2.58],[3409,2.61],[3422,2.68],[3435,2.72],[3450,2.78],[3464,2.82],[3485,2.75],[3510,2.8],[3535,2.7],[3557,2.72],[3580,2.62],[3600,2.6],[3625,2.48],[3650,2.41],[3670,2.46],[3690,2.42],[3708,2.5],[3724,2.46],[3742,2.52],[3760,2.48],[3780,2.55],[3799,2.51],[3820,2.58],[3845,2.52],[3870,2.62],[3892,2.61],[3906,2.52],[3920,2.48],[3935,2.42],[3948,2.41],[3962,2.47],[3975,2.45],[3990,2.55],[4003,2.51],[4015,2.62],[4025,2.7],[4033,2.78],[4041,2.82],[4060,2.74],[4080,2.7],[4100,2.62],[4120,2.6],[4145,2.52],[4170,2.5],[4200,2.4],[4230,2.35],[4255,2.32],[4282,2.3],[4300,2.38],[4320,2.35],[4340,2.44],[4357,2.41],[4375,2.55],[4395,2.7],[4412,2.85],[4431,3.03],[4445,2.95],[4460,2.9],[4475,2.78],[4487,2.82]];
const bluePts = [[-5,2.5],[15,4.8],[40,6.0],[60,6.35],[80,6.68],[105,6.55],[130,6.92],[165,6.7],[200,6.85],[240,6.6],[280,6.78],[320,6.45],[360,6.55],[400,6.38],[440,6.65],[480,6.35],[520,6.32],[560,6.15],[600,6.28],[640,5.98],[680,6.05],[720,5.82],[760,5.98],[790,5.72],[820,5.75],[848,5.5],[851,1.0],[862,1.05],[866,5.8],[883,6.3],[900,6.68],[930,6.52],[960,6.92],[1000,6.78],[1040,7.08],[1080,6.85],[1120,6.98],[1160,6.75],[1200,6.9],[1240,6.62],[1280,6.72],[1320,6.45],[1360,6.58],[1400,6.22],[1440,6.35],[1480,6.05],[1520,6.18],[1560,5.85],[1600,5.95],[1640,5.58],[1680,5.68],[1720,5.42],[1760,5.55],[1800,5.25],[1840,5.38],[1880,5.05],[1920,5.12],[1960,4.98],[2000,5.08],[2040,5.05],[2080,5.25],[2120,5.35],[2160,5.58],[2200,5.55],[2240,5.75],[2280,5.7],[2320,5.88],[2360,5.65],[2400,5.75],[2430,5.48],[2460,5.58],[2488,5.4],[2491,0.98],[2502,0.95],[2506,5.2],[2530,5.8],[2546,6.2],[2562,6.6],[2576,6.82],[2590,6.99],[2605,7.05],[2620,7.1],[2633,7.22],[2646,7.3],[2660,7.38],[2675,7.45],[2688,7.55],[2702,7.5],[2720,7.42],[2740,7.35],[2755,7.25],[2770,7.2],[2782,7.12],[2795,7.2],[2808,7.28],[2820,7.25],[2835,7.35],[2851,7.3],[2865,7.22],[2880,7.1],[2893,7.05],[2907,6.99],[2920,6.82],[2935,6.7],[2948,6.58],[2962,6.47],[2976,6.32],[2990,6.2],[3004,6.05],[3018,5.95],[3031,6.02],[3045,6.0],[3060,6.1],[3074,6.05],[3087,6.12],[3100,6.1],[3115,6.2],[3129,6.16],[3145,6.12],[3160,6.05],[3182,6.0],[3204,5.95],[3218,5.75],[3230,5.6],[3245,5.42],[3259,5.32],[3275,5.2],[3290,5.1],[3302,5.05],[3315,5.0],[3332,4.92],[3350,4.95],[3370,5.02],[3390,5.0],[3405,5.1],[3420,5.05],[3433,5.15],[3446,5.11],[3463,5.18],[3480,5.15],[3500,5.25],[3520,5.22],[3540,5.3],[3560,5.28],[3577,5.38],[3594,5.32],[3612,5.28],[3630,5.3],[3650,5.36],[3669,5.32],[3688,5.25],[3705,5.2],[3720,5.08],[3735,5.0],[3742,4.5],[3748,4.96],[3765,5.0],[3780,5.05],[3800,5.02],[3818,5.11],[3835,5.08],[3850,5.05],[3870,4.98],[3892,5.0],[3906,5.1],[3920,5.15],[3934,5.2],[3948,5.22],[3962,5.15],[3975,5.2],[3990,5.12],[4003,5.16],[4017,5.22],[4030,5.2],[4045,5.28],[4059,5.27],[4075,5.22],[4090,5.25],[4100,5.18],[4110,5.2],[4113,4.7],[4130,4.75],[4150,4.72],[4170,4.66],[4190,4.7],[4205,4.72],[4220,4.66],[4232,4.6],[4245,4.64],[4265,4.58],[4285,4.62],[4303,4.68],[4320,4.64],[4338,4.58],[4354,4.6],[4357,4.07],[4370,4.15],[4380,4.1],[4392,4.02],[4403,4.07],[4418,4.18],[4430,4.25],[4440,4.3],[4450,4.35],[4460,4.45],[4468,4.54]];
const navyPts = [[-5,3.0],[10,4.3],[30,5.8],[45,6.78],[60,7.2],[81,7.4],[95,7.48],[110,7.55],[125,7.52],[137,7.66],[150,7.62],[165,7.7],[180,7.65],[193,7.72],[210,7.85],[230,7.93],[250,7.9],[270,7.98],[285,7.92],[300,8.02],[312,7.96],[324,7.98],[342,7.92],[360,7.98],[375,7.9],[390,8.0],[403,7.95],[416,7.93],[432,7.85],[450,7.9],[470,7.82],[491,7.88],[505,7.8],[520,7.75],[533,7.68],[547,7.62],[560,7.65],[575,7.72],[590,7.68],[603,7.77],[625,7.72],[650,7.78],[672,7.7],[695,7.77],[712,7.74],[730,7.8],[750,7.76],[770,7.82],[785,7.72],[800,7.65],[813,7.58],[826,7.5],[838,7.52],[850,7.45],[866,7.42],[881,7.4],[895,7.3],[909,7.2],[925,7.25],[940,7.3],[960,7.28],[980,7.35],[990,7.45],[1000,7.55],[1010,7.6],[1021,7.66],[1044,7.72],[1067,7.77],[1088,7.72],[1110,7.74],[1135,7.68],[1160,7.72],[1185,7.66],[1210,7.7],[1232,7.62],[1253,7.66],[1266,7.6],[1279,7.66],[1307,7.55],[1335,7.5],[1363,7.58],[1391,7.62],[1410,7.55],[1430,7.58],[1448,7.52],[1465,7.5],[1480,7.42],[1495,7.35],[1508,7.28],[1521,7.2],[1535,7.18],[1550,7.15],[1565,7.12],[1577,7.09],[1595,7.0],[1610,6.95],[1630,6.9],[1651,6.83],[1666,6.8],[1680,6.75],[1692,6.72],[1703,6.7],[1706,7.15],[1709,6.68],[1725,6.6],[1740,6.55],[1752,6.5],[1763,6.47],[1782,6.42],[1800,6.45],[1818,6.4],[1837,6.42],[1856,6.48],[1875,6.45],[1893,6.4],[1911,6.42],[1925,6.38],[1940,6.35],[1953,6.3],[1967,6.26],[1981,6.32],[1995,6.4],[2010,6.45],[2023,6.52],[2037,6.55],[2050,6.6],[2065,6.7],[2079,6.78],[2092,6.75],[2105,6.72],[2120,6.7],[2134,6.68],[2153,6.52],[2172,6.36],[2195,6.22],[2220,6.1],[2250,6.02],[2280,5.9],[2315,5.85],[2350,5.8],[2385,5.72],[2420,5.75],[2460,5.62],[2500,5.65],[2540,5.52],[2580,5.55],[2610,5.42],[2640,5.3],[2658,5.25],[2672,5.2],[2675,3.4],[2680,5.15],[2697,5.1],[2700,1.37],[2712,1.4],[2716,6.0],[2728,6.25],[2740,6.4],[2750,6.52],[2758,6.6],[2766,6.9],[2776,7.2],[2793,7.28],[2810,7.35],[2825,7.42],[2840,7.5],[2855,7.55],[2869,7.62],[2884,7.7],[2898,7.75],[2912,7.8],[2925,7.85],[2940,7.9],[2953,7.93],[2967,7.88],[2981,7.9],[2995,7.85],[3010,7.8],[3025,7.75],[3040,7.72],[3052,7.68],[3065,7.66],[3082,7.6],[3100,7.55],[3115,7.5],[3129,7.46],[3143,7.42],[3158,7.4],[3172,7.3],[3185,7.2],[3190,1.78],[3198,1.8],[3203,5.5],[3212,5.75],[3222,5.95],[3236,6.35],[3250,6.7],[3264,7.02],[3278,7.3],[3292,7.52],[3305,7.7],[3320,7.82],[3334,7.93],[3350,7.98],[3365,8.02],[3378,8.05],[3390,8.08],[3400,8.02],[3408,8.15],[3418,8.08],[3430,8.05],[3447,7.98],[3464,7.93],[3477,7.82],[3490,7.7],[3505,7.6],[3520,7.5],[3538,7.45],[3557,7.4],[3576,7.48],[3595,7.55],[3613,7.6],[3632,7.66],[3650,7.62],[3670,7.7],[3688,7.66],[3706,7.72],[3720,7.68],[3735,7.62],[3748,7.55],[3762,7.5],[3775,7.55],[3778,7.62],[3781,7.3],[3790,7.22],[3800,7.15],[3815,7.08],[3830,7.0],[3842,6.9],[3855,6.83],[3872,6.72],[3890,6.6],[3910,6.5],[3929,6.42],[3945,6.38],[3960,6.35],[3972,6.4],[3985,6.36],[3993,6.3],[3996,5.48],[4010,5.6],[4025,5.68],[4041,5.74],[4055,5.7],[4070,5.8],[4083,5.78],[4097,5.84],[4115,5.8],[4135,5.75],[4152,5.78],[4171,5.74],[4185,5.68],[4200,5.7],[4212,5.75],[4222,5.72],[4225,6.31],[4230,5.69],[4245,5.65],[4260,5.7],[4275,5.75],[4290,5.8],[4308,5.85],[4325,5.92],[4337,5.9],[4340,4.6],[4347,4.6],[4352,5.38],[4365,5.32],[4380,5.4],[4395,5.45],[4410,5.48],[4431,5.53],[4450,5.5],[4470,5.5],[4488,5.55],[4505,5.53],[4525,5.5],[4545,5.55],[4562,5.6],[4580,5.58],[4595,5.55],[4610,5.5],[4622,5.45],[4636,5.42],[4650,5.35],[4665,5.3],[4680,5.28],[4692,5.22],[4703,5.1],[4715,5.05],[4726,4.92],[4738,4.85]];
const blackPts = [[-15,1.15],[5,1.12],[25,1.08],[42,1.12],[47,4.5],[55,5.3],[63,5.6],[76,5.85],[90,6.0],[105,6.08],[120,6.2],[138,6.3],[156,6.42],[170,6.36],[185,6.3],[198,6.22],[212,6.16],[222,5.5],[230,3.2],[245,3.1],[258,3.3],[277,5.2],[300,5.7],[314,5.95],[332,6.0],[351,6.05],[375,5.98],[400,5.95],[418,5.88],[435,5.9],[452,5.96],[470,5.95],[490,5.88],[509,5.84],[525,5.86],[540,5.8],[552,5.7],[565,5.63],[582,5.66],[600,5.6],[620,5.52],[640,5.48],[655,5.42],[670,5.4],[683,5.35],[695,5.32],[708,5.38],[720,5.4],[735,5.5],[751,5.53],[770,5.62],[788,5.69],[793,3.0],[797,1.15],[805,1.1],[808,5.4],[812,1.2],[820,1.1],[825,5.6],[830,1.2],[838,1.15],[842,5.9],[848,1.2],[855,1.2],[863,6.16],[877,6.12],[890,6.2],[904,6.18],[918,6.26],[940,6.2],[960,6.22],[977,6.2],[993,6.16],[1007,6.0],[1021,5.95],[1035,6.0],[1049,6.05],[1058,6.2],[1067,6.31],[1084,6.3],[1100,6.35],[1120,6.32],[1141,6.31],[1170,6.4],[1200,6.45],[1228,6.42],[1253,6.38],[1272,6.35],[1290,6.3],[1315,6.3],[1340,6.25],[1365,6.22],[1391,6.2],[1410,6.15],[1430,6.1],[1448,6.0],[1465,5.95],[1488,5.85],[1510,5.75],[1534,5.62],[1558,5.53],[1580,5.45],[1600,5.4],[1625,5.3],[1651,5.22],[1675,5.15],[1700,5.1],[1730,5.05],[1763,5.0],[1782,4.95],[1800,4.92],[1818,4.85],[1837,4.8],[1858,4.75],[1880,4.7],[1905,4.65],[1930,4.59],[1955,4.55],[1980,4.5],[2002,4.46],[2023,4.44],[2046,4.42],[2070,4.4],[2093,4.36],[2116,4.33],[2133,4.28],[2150,4.25],[2170,4.2],[2190,4.18],[2205,4.2],[2209,1.0],[2220,0.98],[2226,4.2],[2235,1.0],[2242,0.95],[2250,4.3],[2258,1.0],[2265,0.98],[2272,4.5],[2283,4.7],[2300,4.72],[2320,4.75],[2338,4.78],[2357,4.8],[2376,4.9],[2395,5.0],[2423,5.12],[2451,5.22],[2466,5.3],[2480,5.35],[2493,5.42],[2506,5.48],[2523,5.5],[2540,5.5],[2560,5.52],[2581,5.53],[2600,5.48],[2618,5.42],[2640,5.32],[2664,5.22],[2682,5.1],[2700,5.0],[2720,4.9],[2739,4.8],[2758,4.65],[2776,4.49],[2804,4.3],[2832,4.18],[2860,4.12],[2888,4.07],[2925,4.02],[2962,3.97],[2986,3.95],[3010,3.92],[3032,3.9],[3055,3.87],[3078,3.84],[3100,3.8],[3124,3.78],[3148,3.76],[3166,3.9],[3185,4.07],[3192,3.85],[3200,3.7],[3211,3.62],[3222,3.55],[3240,3.56],[3260,3.58],[3278,3.52],[3297,3.55],[3315,3.6],[3334,3.66],[3352,3.48],[3371,3.34],[3395,3.36],[3420,3.38],[3442,3.35],[3464,3.34],[3492,3.3],[3520,3.24],[3545,3.18],[3570,3.1],[3592,3.06],[3613,3.03],[3640,3.05],[3670,3.02],[3697,2.96],[3724,2.93],[3742,2.92],[3760,2.9],[3780,2.85],[3799,2.82],[3815,2.9],[3830,2.95],[3843,3.0],[3855,3.03],[3873,2.92],[3892,2.82],[3910,2.98],[3929,3.13],[3957,3.18],[3985,3.24],[4013,3.1],[4041,2.98],[4069,3.02],[4097,3.03],[4125,2.95],[4153,2.87],[4180,2.8],[4208,2.72],[4236,2.75],[4264,2.72],[4297,2.7],[4330,2.66]];

// ---- build traces (style kept separate from data) ----
const seriesList = [
  {pts: khakiPts, color: '#b3ad5c'},
  {pts: lightBluePts, color: '#86b6e6'},
  {pts: tanPts, color: '#c49a6a'},
  {pts: grayPts, color: '#b4b4b4'},
  {pts: salmonPts, color: '#ff7c6c'},
  {pts: steelPts, color: '#3f86b8'},
  {pts: charcoalPts, color: '#3a3a3a'},
  {pts: darkGrayPts, color: '#5a5a5a'},
  {pts: orangePts, color: '#ff8a3c'},
  {pts: darkGreenPts, color: '#1f9a3e'},
  {pts: brownPts, color: '#a0642e'},
  {pts: lavenderPts, color: '#b49ed8'},
  {pts: violetPts, color: '#9a14b0'},
  {pts: purplePts, color: '#8a40d0'},
  {pts: pinkPts, color: '#ff4c88'},
  {pts: redPts, color: '#ff2626'},
  {pts: maroonPts, color: '#9e2626'},
  {pts: magentaPts, color: '#ff40ff'},
  {pts: greenPts, color: '#3cba78'},
  {pts: olivePts, color: '#a6a63a'},
  {pts: bluePts, color: '#2a2aff'},
  {pts: navyPts, color: '#23238e'},
  {pts: blackPts, color: '#000000', width: 5.5}
];
const traces = seriesList.map(s => ({
  type: 'scatter', mode: 'lines',
  x: s.pts.map(p => p[0]), y: s.pts.map(p => p[1]),
  line: {color: s.color, width: s.width || 1.5, shape: 'hv'},
  hoverinfo: 'skip', showlegend: false
}));

// ---- geometry ----
const W = 1028, H = 438;
const mL = 86, mR = 5, mT = 9, mB = 86;
const pw = W - mL - mR, ph = H - mT - mB;
const xDom = [6 / pw, 1], yDom = [6 / ph, 1];
const xRange = [-48.5, 5145], yRange = [-0.281, 10.25];
const fx = v => xDom[0] + (v - xRange[0]) / (xRange[1] - xRange[0]) * (xDom[1] - xDom[0]);
const fy = v => yDom[0] + (v - yRange[0]) / (yRange[1] - yRange[0]) * (yDom[1] - yDom[0]);
const axCol = '#333333';
const tickFont = {family: 'DejaVu Sans, Verdana, sans-serif', size: 19, color: '#1e1e38'};
const titleFont = {family: 'Liberation Serif, Times New Roman, serif', size: 26, color: '#1a1a2a'};
const gridStyle = {showgrid: true, gridcolor: '#a8a8a8', griddash: '2px,3px', gridwidth: 1};

const layout = {
  width: W, height: H,
  margin: {l: mL, r: mR, t: mT, b: mB, pad: 0},
  paper_bgcolor: '#ffffff', plot_bgcolor: '#ffffff',
  showlegend: false,
  xaxis: Object.assign({
    domain: xDom, range: xRange, anchor: 'free', position: 0,
    tickmode: 'array', tickvals: xTickVals, ticktext: xTickText,
    ticks: 'outside', ticklen: 14, tickwidth: 2, tickcolor: axCol,
    minor: {tick0: 0, dtick: 200, ticks: 'outside', ticklen: 7, tickwidth: 2, tickcolor: axCol, showgrid: false},
    showline: false, zeroline: false,
    tickfont: tickFont, fixedrange: true
  }, gridStyle),
  yaxis: Object.assign({
    domain: yDom, range: yRange, anchor: 'free', position: 0,
    tickmode: 'array', tickvals: yTickVals, ticktext: yTickText,
    ticks: 'outside', ticklen: 14, tickwidth: 2, tickcolor: axCol, ticklabelstandoff: 8,
    minor: {tick0: 0, dtick: 0.5, ticks: 'outside', ticklen: 8, tickwidth: 2, tickcolor: axCol, showgrid: false},
    showline: false, zeroline: false,
    tickfont: tickFont, fixedrange: true
  }, gridStyle),
  shapes: [
    {type: 'rect', xref: 'paper', yref: 'paper', x0: xDom[0], x1: 1, y0: yDom[0], y1: 1,
     line: {color: '#3a3a3a', width: 2}, layer: 'above'},
    {type: 'line', xref: 'paper', yref: 'paper', x0: fx(0), x1: fx(5000), y0: 0, y1: 0,
     line: {color: axCol, width: 2}},
    {type: 'line', xref: 'paper', yref: 'paper', x0: 0, x1: 0, y0: fy(0), y1: fy(10),
     line: {color: axCol, width: 2}}
  ],
  annotations: [
    {text: xTitle, xref: 'paper', yref: 'paper', x: (566 - mL) / pw, y: -(422 - (H - mB)) / ph,
     xanchor: 'center', yanchor: 'middle', showarrow: false, font: titleFont},
    {text: yTitle, xref: 'paper', yref: 'paper', x: (24 - mL) / pw, y: ((H - mB) - 196) / ph,
     xanchor: 'center', yanchor: 'middle', textangle: -90, showarrow: false, font: titleFont}
  ]
};

Plotly.newPlot('chart', traces, layout, {displayModeBar: false, staticPlot: true});
</script>
</body></html>
